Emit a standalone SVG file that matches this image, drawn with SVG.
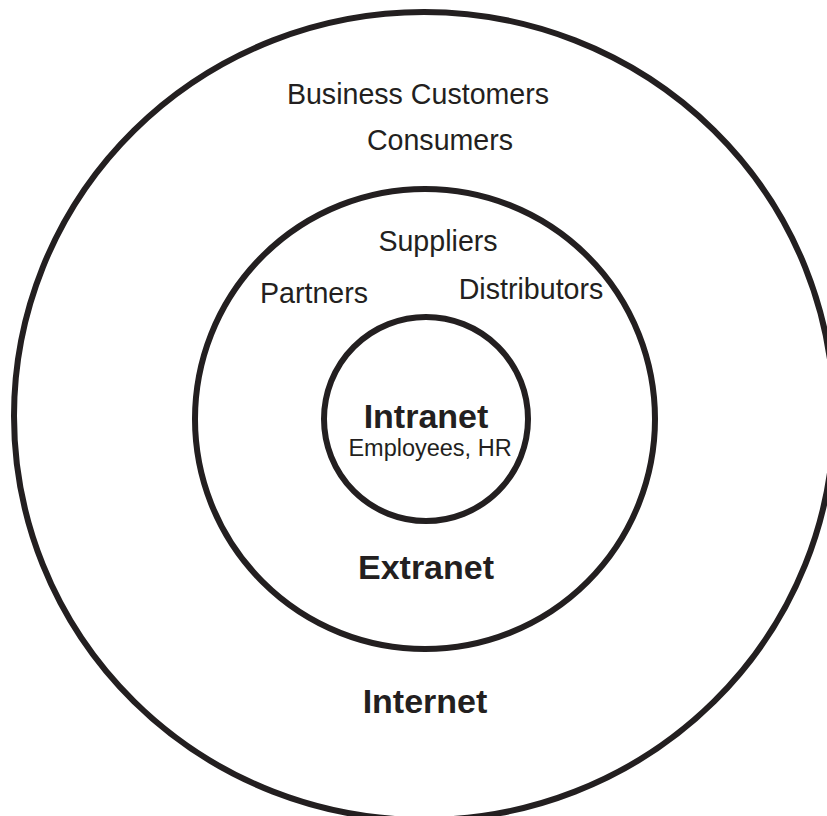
<svg xmlns="http://www.w3.org/2000/svg" width="827" height="816" viewBox="0 0 827 816">
<style>
.ring{fill:none;stroke:#231f20;stroke-width:6}
.t{font-family:"Liberation Sans",Arial,sans-serif;fill:#231f20;text-anchor:middle}
.r{font-size:28.6px}
.b{font-weight:bold;font-size:34px}
.s{font-size:23.5px}
</style>
<rect width="827" height="816" fill="#ffffff"/>
<g id="internet">
<ellipse class="ring" cx="424" cy="416" rx="410" ry="404"/>
<text class="t b" x="425" y="713">Internet</text>
<text class="t r" x="418" y="104">Business Customers</text>
<text class="t r" x="440" y="150">Consumers</text>
</g>
<g id="extranet">
<circle class="ring" cx="425" cy="419" r="230"/>
<text class="t b" x="426" y="579">Extranet</text>
<text class="t r" x="438" y="251">Suppliers</text>
<text class="t r" x="314" y="303">Partners</text>
<text class="t r" x="531" y="299">Distributors</text>
</g>
<g id="intranet">
<circle class="ring" cx="426" cy="419" r="102"/>
<text class="t b" x="426" y="428">Intranet</text>
<text class="t s" x="430" y="456">Employees, HR</text>
</g>
<g id="connectors"></g>
</svg>
